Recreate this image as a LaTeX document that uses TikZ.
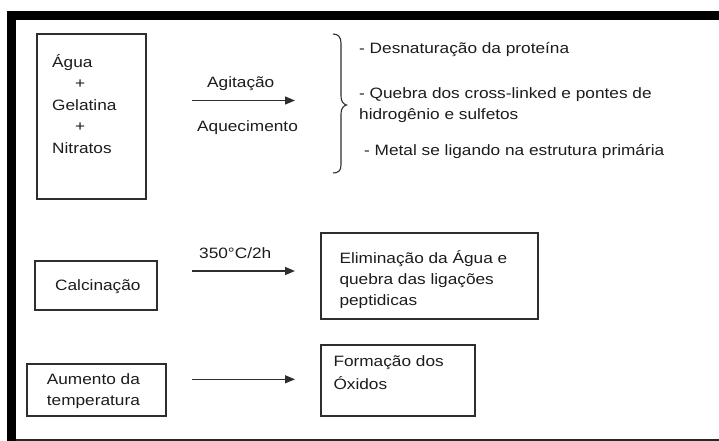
\documentclass[tikz,border=0pt]{standalone}
\usepackage{fontspec}
\setmainfont{Liberation Sans}[FakeStretch=1.15]
\usetikzlibrary{arrows.meta}
\definecolor{txt}{HTML}{1C1C1C}
\definecolor{ln}{HTML}{2E2E2E}
\tikzset{
  lbl/.style={anchor=base west, inner sep=0pt, text=txt, font=\fontsize{15}{21}\selectfont},
  boxn/.style={draw=ln, line width=1.1pt, inner sep=0pt},
  arr/.style={draw=ln, line width=1.3pt, -{Triangle[length=10pt,width=8pt]}},
}
\begin{document}
\begin{tikzpicture}[x=1pt,y=-1pt]
\useasboundingbox (0,0) rectangle (719,441);
% frame
\fill[black] (7,11.5) rectangle (719,20.5);
\fill[black] (7,11.5) rectangle (15.5,441);
\fill[black!85] (15.5,438.5) rectangle (719,440.5);

% boxes
\node[boxn, minimum width=109pt, minimum height=165pt] (b1) at (91.5,116.5) {};
\node[boxn, minimum width=122pt, minimum height=49pt] (b2) at (96,285.5) {};
\node[boxn, minimum width=217pt, minimum height=86pt] (b3) at (429.5,276) {};
\node[boxn, minimum width=139pt, minimum height=52pt] (b4) at (96.5,390) {};
\node[boxn, minimum width=154pt, minimum height=71pt] (b5) at (398,380.5) {};

% box 1 text
\node[lbl] (t1a) at (52,68) {Água};
\node[lbl] (t1b) at (75,89) {+};
\node[lbl] (t1c) at (52,110.5) {Gelatina};
\node[lbl] (t1d) at (75,131.5) {+};
\node[lbl] (t1e) at (52,153) {Nitratos};

% arrow 1
\coordinate (a1s) at (192,100.5);
\coordinate (a1e) at (295,100.5);
\draw[arr] (a1s) -- (a1e);
\node[lbl] (ag) at (207,88) {Agitação};
\node[lbl] (aq) at (197,131) {Aquecimento};

% brace
\draw[ln, line width=1.1pt] (333,34) .. controls (338,34) and (341,37) .. (341,43) -- (341,96)
  .. controls (341,101) and (343,104) .. (346.5,105)
  .. controls (343,106) and (341,109) .. (341,114) -- (341,165)
  .. controls (341,171) and (338,173) .. (333,173);

\node[lbl] (r1) at (359,54) {- Desnaturação da proteína};
\node[lbl] (r2) at (359,98.3) {- Quebra dos cross-linked e pontes de};
\node[lbl] (r3) at (359,119.5) {hidrogênio e sulfetos};
\node[lbl] (r4) at (364,155.7) {- Metal se ligando na estrutura primária};

% row 2
\node[lbl] (calc) at (55,290.7) {Calcinação};
\coordinate (a2s) at (192,271);
\coordinate (a2e) at (295,271);
\draw[arr] (a2s) -- (a2e);
\node[lbl] (temp) at (199,258.5) {350°C/2h};
\node[lbl] (e1) at (339.3,263.3) {Eliminação da Água e};
\node[lbl] (e2) at (339.3,284) {quebra das ligações};
\node[lbl] (e3) at (339.3,305) {peptidicas};

% row 3
\node[lbl] (au1) at (46.7,384) {Aumento da};
\node[lbl] (au2) at (46.7,405) {temperatura};
\coordinate (a3s) at (192,379.3);
\coordinate (a3e) at (295,379.3);
\draw[arr] (a3s) -- (a3e);
\node[lbl] (f1) at (333.3,366.7) {Formação dos};
\node[lbl] (f2) at (333.3,389.3) {Óxidos};
\end{tikzpicture}
\end{document}
